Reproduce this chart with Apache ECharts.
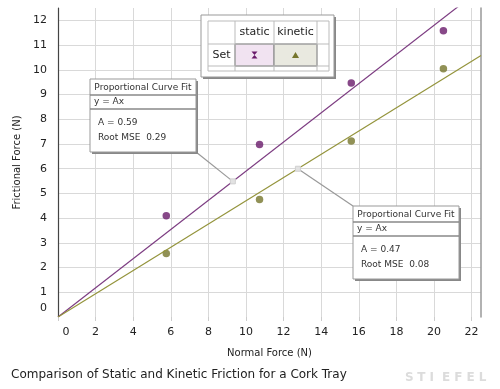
<!DOCTYPE html>
<html><head><meta charset="utf-8">
<script src="https://cdn.jsdelivr.net/npm/echarts@6/dist/echarts.min.js"></script>
<style>html,body{margin:0;padding:0;background:#fff}#c{width:500px;height:389px}</style>
</head><body><div id="c"></div>
<script>
// ---- data ----
const normalForce = [5.76, 10.72, 15.6, 20.5];
const staticFriction = [4.1, 6.98, 9.47, 11.58];
const kineticFriction = [2.57, 4.75, 7.12, 10.04];
const seriesNames = ['static', 'kinetic'];
const fitA = [0.59, 0.47];
const fitRMSE = [0.29, 0.08];
const fitLeaderX = [9.3, 12.76];
const xRange = [0, 22.5];
const yRange = [0, 12.5];
const titleText = 'Comparison of Static and Kinetic Friction for a Cork Tray';
const xName = 'Normal Force (N)';
const yName = 'Frictional Force (N)';
const watermark = 'STIEFEL';

const FONT = 'DejaVu Sans';
const C_STATIC = '#691a6a', C_KIN = '#75752c';
const L_STATIC = '#7d3d82', L_KIN = '#94943c';

const chart = echarts.init(document.getElementById('c'), null, {renderer: 'canvas'});

function pts(ys) { return normalForce.map((x, i) => [x, ys[i]]); }
function fitLine(a) { return [[xRange[0], a * xRange[0]], [xRange[1], a * xRange[1]]]; }

const option = {
  animation: false,
  backgroundColor: '#fff',
  title: {
    text: titleText, left: 6, top: 364,
    textStyle: {fontFamily: FONT, fontSize: 12, fontWeight: 'normal', color: '#222'}
  },
  grid: {left: 58, top: 8, right: 19, bottom: 72, containLabel: false},
  xAxis: {
    type: 'value', min: xRange[0], max: xRange[1], interval: 2,
    name: xName, nameLocation: 'middle', nameGap: 31,
    nameTextStyle: {fontFamily: FONT, fontSize: 10, color: '#222'},
    axisLine: {show: false},
    axisTick: {show: true, length: 4, lineStyle: {color: '#ccc'}},
    axisLabel: {
      fontFamily: FONT, fontSize: 11, color: '#222', margin: 10, showMaxLabel: false,
      formatter: v => v === 0 ? '{z|0}' : String(v),
      rich: {z: {fontFamily: FONT, fontSize: 11, color: '#222', padding: [0, 0, 0, 16]}}
    },
    splitLine: {show: true, showMaxLine: false, lineStyle: {color: '#d9d9d9', width: 1}}
  },
  yAxis: [{
    type: 'value', min: yRange[0], max: yRange[1], interval: 1,
    name: yName, nameLocation: 'middle', nameGap: 33,
    nameTextStyle: {fontFamily: FONT, fontSize: 10, color: '#222'},
    axisLine: {show: true, lineStyle: {color: '#444', width: 1.2}},
    axisTick: {show: false},
    axisLabel: {
      fontFamily: FONT, fontSize: 11, color: '#222', margin: 11, showMaxLabel: false,
      formatter: v => v === 0 ? '{z|0}' : String(v),
      rich: {z: {fontFamily: FONT, fontSize: 11, color: '#222', padding: [0, 0, 18, 0]}}
    },
    splitLine: {show: true, showMinLine: false, showMaxLine: false, lineStyle: {color: '#d9d9d9', width: 1}}
  }, {
    type: 'value', min: yRange[0], max: yRange[1], position: 'right',
    axisLine: {show: true, lineStyle: {color: '#999', width: 1.5}},
    axisTick: {show: false}, axisLabel: {show: false}, splitLine: {show: false}
  }],
  series: [
    {type: 'line', name: seriesNames[0] + ' fit', data: fitLine(fitA[0]), showSymbol: false, clip: true,
     lineStyle: {color: L_STATIC, width: 1.2}, silent: true},
    {type: 'line', name: seriesNames[1] + ' fit', data: fitLine(fitA[1]), showSymbol: false, clip: true,
     lineStyle: {color: L_KIN, width: 1.2}, silent: true},
    {type: 'scatter', name: seriesNames[0], data: pts(staticFriction), symbol: 'circle', symbolSize: 7.5,
     itemStyle: {color: C_STATIC}},
    {type: 'scatter', name: seriesNames[1], data: pts(kineticFriction), symbol: 'circle', symbolSize: 7.5,
     itemStyle: {color: C_KIN}}
  ]
};
chart.setOption(option);

// ---- annotations ----
function fitBox(x, y, i, leaderFrom) {
  const w = 106, h = 73;
  const p = chart.convertToPixel({gridIndex: 0}, [fitLeaderX[i], fitA[i] * fitLeaderX[i]]);
  const f = {fontFamily: FONT, fontSize: 9, fill: '#333'};
  const from = leaderFrom === 'br' ? [x + w, y + h] : [x, y];
  return [
    {type: 'line', shape: {x1: from[0], y1: from[1], x2: p[0], y2: p[1]}, style: {stroke: '#999', lineWidth: 1.2}, z: 10},
    {type: 'rect', shape: {x: p[0] - 2.5, y: p[1] - 2.5, width: 5, height: 5}, style: {fill: '#e2e2e2', stroke: '#d0d0d0'}, z: 11},
    {type: 'rect', shape: {x: x + 2, y: y + 2, width: w, height: h}, style: {fill: '#888'}, z: 12},
    {type: 'rect', shape: {x: x, y: y, width: w, height: h}, style: {fill: '#fff', stroke: '#999', lineWidth: 1}, z: 13},
    {type: 'line', shape: {x1: x, y1: y + 16, x2: x + w, y2: y + 16}, style: {stroke: '#888', lineWidth: 1.5}, z: 14},
    {type: 'line', shape: {x1: x, y1: y + 30, x2: x + w, y2: y + 30}, style: {stroke: '#888', lineWidth: 1.5}, z: 14},
    {type: 'text', x: x + w / 2, y: y + 8.5, style: Object.assign({text: 'Proportional Curve Fit', align: 'center', verticalAlign: 'middle'}, f), z: 15},
    {type: 'text', x: x + 4, y: y + 23, style: Object.assign({text: 'y = Ax', verticalAlign: 'middle'}, f), z: 15},
    {type: 'text', x: x + 8, y: y + 44, style: Object.assign({text: 'A = ' + fitA[i].toFixed(2), verticalAlign: 'middle'}, f), z: 15},
    {type: 'text', x: x + 8, y: y + 59, style: Object.assign({text: 'Root MSE  ' + fitRMSE[i].toFixed(2), verticalAlign: 'middle'}, f), z: 15}
  ];
}

function legendTable() {
  const ox = 201, oy = 15, ow = 133, oh = 62;
  const cx = [208, 235, 274, 317, 329], ry = [21, 44, 66, 71];
  const els = [
    {type: 'rect', shape: {x: ox + 2, y: oy + 2, width: ow, height: oh}, style: {fill: '#888'}, z: 12},
    {type: 'rect', shape: {x: ox, y: oy, width: ow, height: oh}, style: {fill: '#fff', stroke: '#999'}, z: 13}
  ];
  els.push({type: 'rect', shape: {x: cx[1], y: ry[1], width: cx[2] - cx[1], height: ry[2] - ry[1]}, style: {fill: '#f1e3f1', stroke: '#666', lineWidth: 1}, z: 14});
  els.push({type: 'rect', shape: {x: cx[2], y: ry[1], width: cx[3] - cx[2], height: ry[2] - ry[1]}, style: {fill: '#e9e9e0', stroke: '#666', lineWidth: 1}, z: 14});
  cx.forEach(x => els.push({type: 'line', shape: {x1: x, y1: ry[0], x2: x, y2: ry[3]}, style: {stroke: '#bbb'}, z: 14}));
  ry.forEach(y => els.push({type: 'line', shape: {x1: cx[0], y1: y, x2: cx[4], y2: y}, style: {stroke: '#bbb'}, z: 14}));
  const tf = {fontFamily: FONT, fontSize: 11, fill: '#222', align: 'center', verticalAlign: 'middle'};
  els.push({type: 'text', x: (cx[1] + cx[2]) / 2, y: 32.5, style: Object.assign({text: seriesNames[0]}, tf), z: 15});
  els.push({type: 'text', x: (cx[2] + cx[3]) / 2, y: 32.5, style: Object.assign({text: seriesNames[1]}, tf), z: 15});
  els.push({type: 'text', x: (cx[0] + cx[1]) / 2, y: 55, style: Object.assign({text: 'Set'}, tf), z: 15});
  const sx = (cx[1] + cx[2]) / 2, sy = 55;
  els.push({type: 'polygon', shape: {points: [[sx - 3, sy - 3.5], [sx + 3, sy - 3.5], [sx, sy], [sx + 3, sy + 3.5], [sx - 3, sy + 3.5], [sx, sy]]}, style: {fill: C_STATIC}, z: 15});
  const kx = (cx[2] + cx[3]) / 2, ky = 55;
  els.push({type: 'polygon', shape: {points: [[kx, ky - 3], [kx + 3.5, ky + 3], [kx - 3.5, ky + 3]]}, style: {fill: C_KIN}, z: 15});
  return els;
}

function watermarkEls() {
  return watermark.split('').map((ch, i) => ({
    type: 'text', x: 405 + i * 12.3, y: 378,
    style: {text: ch, fontFamily: FONT, fontSize: 12, fontWeight: 'bold', fill: '#dcdcdc', verticalAlign: 'middle'}, z: 5
  }));
}

chart.setOption({
  graphic: [].concat(
    fitBox(90, 79, 0, 'br'),
    fitBox(353, 206, 1, 'tl'),
    legendTable(),
    watermarkEls()
  )
});
</script>
</body></html>
